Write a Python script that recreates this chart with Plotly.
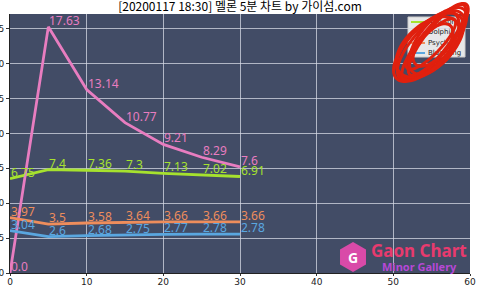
import numpy as np
import plotly.graph_objects as go

minutes = [0, 5, 10, 15, 20, 25, 30]
s_green = [6.75, 7.4, 7.36, 7.3, 7.13, 7.02, 6.91]
s_pink = [0.0, 17.63, 13.14, 10.77, 9.21, 8.29, 7.6]
s_orange = [3.97, 3.5, 3.58, 3.64, 3.66, 3.66, 3.66]
s_blue = [3.04, 2.6, 2.68, 2.75, 2.77, 2.78, 2.78]
names = ["Any song", "Dolphin", "Psycho", "Blueming"]
colors = ["#a6e22e", "#e87dc0", "#ee8d5c", "#5aa7e0"]
title = "[20200117 18:30] 멜론 5분 차트 by 가이섬.com"

W, H = 480, 287
L, R, T, B = 10, 10, 14, 14

fig = go.Figure()
annotations = []
for name, ys, c in zip(names, [s_green, s_pink, s_orange, s_blue], colors):
    fig.add_trace(go.Scatter(
        x=minutes, y=ys, name=name, mode="lines",
        line=dict(color=c, width=2.8),
        showlegend=False,
    ))
    for xv, yv in zip(minutes, ys):
        annotations.append(dict(x=xv, y=yv, xref="x", yref="y", text=f"{yv}", showarrow=False,
                                xanchor="left", yanchor="bottom", xshift=-1, yshift=-4,
                                font=dict(color=c, size=12, family="Noto Sans")))


def px2paper(px, py):
    return (px - L) / (W - L - R), (H - B - py) / (H - T - B)


shapes = []
# legend box (hand-built so the scribble can sit over it)
x0, y0 = px2paper(408, 17)
x1, y1 = px2paper(465, 57)
shapes.append(dict(type="rect", xref="paper", yref="paper", x0=x0, y0=y0, x1=x1, y1=y1,
                   fillcolor="rgba(240,240,240,0.95)", line=dict(color="#cccccc", width=1), layer="between"))
leg_rows = [22, 32, 43, 53]
leg_x, leg_y = [], []
for c, py in zip(colors, leg_rows):
    a0, b0 = px2paper(411, py)
    a1, _ = px2paper(425, py)
    shapes.append(dict(type="line", xref="paper", yref="paper", x0=a0, y0=b0, x1=a1, y1=b0,
                       line=dict(color=c, width=2), layer="between"))
    tx, ty = px2paper(428, py)
    leg_x.append(tx)
    leg_y.append(ty)
fig.add_trace(go.Scatter(x=leg_x, y=leg_y, xaxis="x2", yaxis="y2", mode="text", text=names,
                         textposition="middle right", textfont=dict(size=7, color="#222", family="DejaVu Sans"),
                         showlegend=False, hoverinfo="skip", cliponaxis=False))

# red scribble over the legend
scrib = [(432, 44, 47, 18, -47), (430, 46, 42, 21, -44), (435, 42, 49, 14, -50),
         (428, 47, 38, 22, -42), (437, 40, 44, 12, -52), (431, 44, 34, 10, -46),
         (434, 43, 36, 17, -55), (429, 46, 46, 20, -45), (433, 45, 26, 13, -48)]
for cx, cy, a, b, ang in scrib:
    t = np.linspace(0, 2 * np.pi, 64)
    th = np.deg2rad(ang)
    xs = cx + a * np.cos(t) * np.cos(th) - b * np.sin(t) * np.sin(th)
    ys = cy + a * np.cos(t) * np.sin(th) + b * np.sin(t) * np.cos(th)
    pts = [px2paper(x, y) for x, y in zip(xs, ys)]
    path = "M " + " L ".join(f"{p[0]:.4f},{p[1]:.4f}" for p in pts) + " Z"
    shapes.append(dict(type="path", xref="paper", yref="paper", path=path, layer="above",
                       line=dict(color="#e0200e", width=3), fillcolor="rgba(0,0,0,0)"))

# watermark hexagon
hx, hy, hr = 353, 257, 15
pts = [px2paper(hx + hr * np.cos(np.deg2rad(90 + 60 * k)), hy - hr * np.sin(np.deg2rad(90 + 60 * k))) for k in range(6)]
path = "M " + " L ".join(f"{p[0]:.4f},{p[1]:.4f}" for p in pts) + " Z"
shapes.append(dict(type="path", xref="paper", yref="paper", path=path,
                   line=dict(width=0), fillcolor="#d94aa8", layer="above"))

ax, ay = px2paper(369, 250)
bx, by = px2paper(419, 266)
gx, gy = px2paper(353, 257)
annotations += [
    dict(text="<b>Gaon Chart</b>", x=ax, y=ay, xref="paper", yref="paper", xanchor="left", yanchor="middle",
         showarrow=False, font=dict(size=17, color="#e83a6e", family="Noto Sans")),
    dict(text="<b>Minor Gallery</b>", x=bx, y=by, xref="paper", yref="paper", xanchor="center", yanchor="middle",
         showarrow=False, font=dict(size=11, color="#b648d6", family="Noto Sans")),
    dict(text="<b>G</b>", x=gx, y=gy, xref="paper", yref="paper", xanchor="center", yanchor="middle",
         showarrow=False, font=dict(size=14, color="white", family="Noto Sans")),
]

fig.update_layout(
    width=W, height=H,
    margin=dict(l=L, r=R, t=T, b=B),
    paper_bgcolor="white",
    plot_bgcolor="#424c66",
    title=dict(text=title, x=0.5, xanchor="center", y=1 - 7 / H, yanchor="middle",
               font=dict(size=12, color="black", family="Noto Sans CJK KR")),
    showlegend=False,
    shapes=shapes,
    annotations=annotations,
    xaxis=dict(range=[0, 60], tickvals=[0, 10, 20, 30, 40, 50, 60], showgrid=True,
               gridcolor="rgba(215,218,230,0.75)", gridwidth=1, zeroline=False,
               ticks="outside", ticklen=2, tickcolor="#333", ticklabelstandoff=-2,
               tickfont=dict(size=9, color="#222", family="DejaVu Sans"),
               showline=True, linecolor="#222", mirror=False, automargin=False),
    yaxis=dict(range=[0, 18.55], tickvals=[0, 2.5, 5, 7.5, 10, 12.5, 15, 17.5],
               ticktext=["0.0", "2.5", "5.0", "7.5", "10.0", "12.5", "15.0", "17.5"], showgrid=True,
               gridcolor="rgba(215,218,230,0.75)", gridwidth=1, zeroline=False,
               ticks="outside", ticklen=3, tickcolor="#333", tickfont=dict(size=9, color="#222", family="DejaVu Sans"),
               showline=True, linecolor="#222", automargin=False),
    xaxis2=dict(range=[0, 1], overlaying="x", visible=False, fixedrange=True),
    yaxis2=dict(range=[0, 1], overlaying="y", visible=False, fixedrange=True),
)

fig.write_html("out.html")
